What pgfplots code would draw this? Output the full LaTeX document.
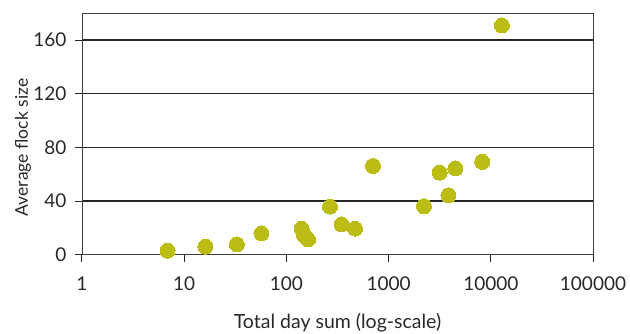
\documentclass[border=0pt]{standalone}
\usepackage{pgfplots}
\pgfplotsset{compat=1.18}
\usepackage{fontspec}
\setmainfont{Lato}
\definecolor{dotc}{RGB}{187,189,20}
\definecolor{txt}{RGB}{40,40,40}
\begin{document}
\begin{tikzpicture}
\useasboundingbox (-82pt,-79.3pt) rectangle (548pt,254.7pt);
\begin{axis}[
  at={(0,0)}, anchor=south west,
  scale only axis, width=511pt, height=241.4pt,
  xmode=log, xmin=1, xmax=100000, ymin=0, ymax=180,
  xtick={1,10,100,1000,10000,100000},
  xticklabels={1,10,100,1000,10000,100000},
  xminorticks=false,
  ytick={0,40,80,120,160},
  yticklabels={0,40,80,120,160},
  /pgf/number format/assume math mode=true,
  ymajorgrids, grid style={draw=black!85, line width=1.3pt},
  tick align=outside, major tick length=7pt,
  tick style={draw=black!85, line width=1pt},
  xtick pos=bottom, ytick pos=left,
  axis line style={draw=black!75, line width=0.9pt},
  tick label style={font=\fontsize{19}{19}\selectfont, text=txt},
  xticklabel style={yshift=-12pt},
  yticklabel style={xshift=-5pt},
  label style={text=txt},
  xlabel={Total day sum (log-scale)},
  ylabel={Average flock size},
  xlabel style={font=\fontsize{19.5}{19.5}\selectfont, at={(axis description cs:0.5,-0.283)}, anchor=center},
  ylabel style={font=\fontsize{17.5}{17.5}\selectfont, at={(axis description cs:-0.1155,0.444)}, anchor=center},
  clip=false,
]
\addplot[only marks, mark=*, mark size=7.5pt, color=dotc, mark options={fill=dotc, draw=dotc, line width=0pt}]
coordinates {
(6.87,3.0) (16.1,6.0) (32.8,7.7) (57,15.9) (141,19.4) (149,14.4) (163,11.4)
(267,35.8) (347,22.6) (469,19.4) (704,66.2) (2218,36.1) (3160,61.2)
(3853,44.3) (4497,64.4) (8245,69.2) (12830,170.9)
};
\end{axis}
\end{tikzpicture}
\end{document}
